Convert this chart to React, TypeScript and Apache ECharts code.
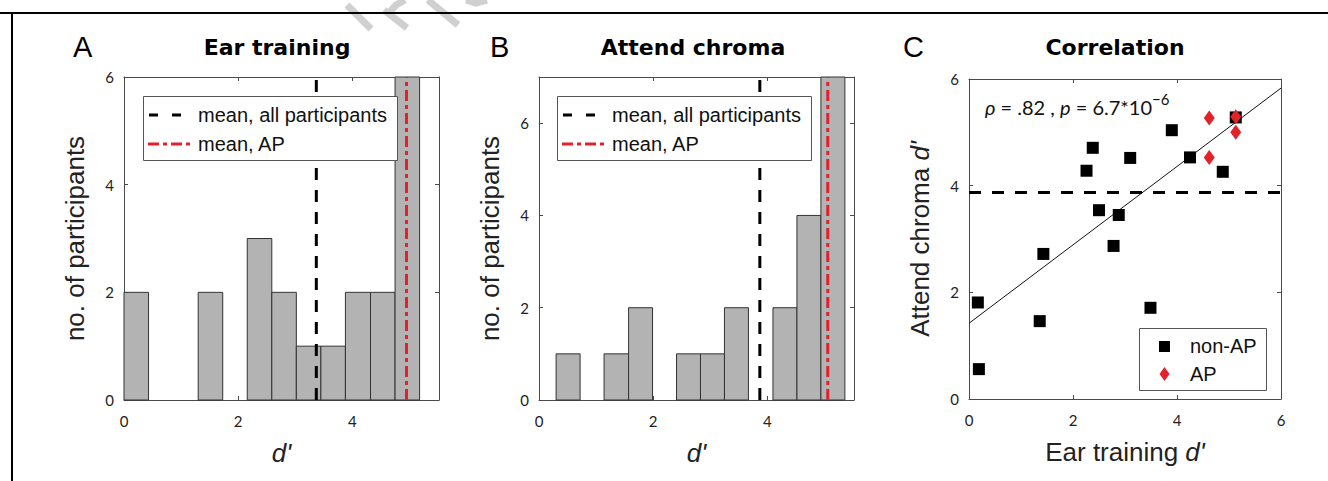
import React, { useEffect, useRef } from "react";
import * as echarts from "echarts";

// ---------- data ----------
const earEdges = [0, 0.43, 0.86, 1.3, 1.73, 2.16, 2.59, 3.02, 3.45, 3.88, 4.32, 4.75, 5.18];
const earCounts = [2, 0, 0, 2, 0, 3, 2, 1, 1, 2, 2, 6];
const chromaEdges = [0.3, 0.72, 1.14, 1.57, 1.99, 2.41, 2.83, 3.25, 3.67, 4.1, 4.52, 4.94, 5.36];
const chromaCounts = [1, 0, 1, 2, 0, 1, 1, 2, 0, 2, 4, 7];
const earMeanAll = 3.37;
const earMeanAP = 4.95;
const chromaMeanAll = 3.87;
const chromaMeanAP = 5.06;
const nonAP = [
  [0.17, 1.81], [0.19, 0.56], [1.36, 1.46], [1.43, 2.72], [2.26, 4.28],
  [2.38, 4.71], [2.5, 3.54], [2.78, 2.87], [2.88, 3.45], [3.1, 4.52],
  [3.49, 1.71], [3.9, 5.04], [4.25, 4.53], [4.88, 4.26], [5.13, 5.28],
];
const apPoints = [[4.62, 5.27], [4.62, 4.53], [5.13, 5.0], [5.13, 5.29]];
const fitLine = [[0, 1.42], [6, 5.83]];
const histXTicks = [0, 2, 4];
const histYTicksA = [0, 2, 4, 6];
const histYTicksB = [0, 2, 4, 6];
const corrTicks = [0, 2, 4, 6];
const titles = ["Ear training", "Attend chroma", "Correlation"];
const panelLetters = ["A", "B", "C"];
const legendHist = ["mean, all participants", "mean, AP"];
const legendCorr = ["non-AP", "AP"];

const SANS = "'Liberation Sans', Arial, sans-serif";
const TICKFONT = "Lato, 'Open Sans', sans-serif";
const AXIS_COLOR = "#4a4a4a";
const RED = "#e3212b";
const DASH_ALL = [12, 10];
const DASH_AP = [11, 4, 4, 4];

function binsData(edges: number[], counts: number[]) {
  return counts.map((c, i) => [edges[i], edges[i + 1], c]);
}

function xAxes(grid: number, min: number, max: number, ticks: number[], name: string) {
  const lineStyle = { color: AXIS_COLOR, width: 1 };
  return [
    {
      type: "value", gridIndex: grid, min, max, position: "bottom",
      axisLine: { show: true, onZero: false, lineStyle },
      axisTick: { show: true, inside: true, length: 4, customValues: ticks, lineStyle },
      axisLabel: { show: true, customValues: ticks, margin: 13, fontSize: 15, color: "#222", fontFamily: TICKFONT },
      splitLine: { show: false },
      name, nameLocation: "middle", nameGap: 40,
      nameTextStyle: {
        fontSize: 26, fontFamily: SANS, color: "#222",
        rich: { i: { fontSize: 26, fontFamily: SANS, fontStyle: "italic", color: "#222" } },
      },
    },
    {
      type: "value", gridIndex: grid, min, max, position: "top",
      axisLine: { show: true, onZero: false, lineStyle },
      axisTick: { show: true, inside: true, length: 4, customValues: ticks, lineStyle },
      axisLabel: { show: false },
      splitLine: { show: false },
    },
  ];
}

function yAxes(grid: number, min: number, max: number, ticks: number[], name: string, gap: number) {
  const lineStyle = { color: AXIS_COLOR, width: 1 };
  return [
    {
      type: "value", gridIndex: grid, min, max, position: "left",
      axisLine: { show: true, onZero: false, lineStyle },
      axisTick: { show: true, inside: true, length: 4, customValues: ticks, lineStyle },
      axisLabel: { show: true, customValues: ticks, margin: 10, fontSize: 15, color: "#222", fontFamily: TICKFONT },
      splitLine: { show: false },
      name, nameLocation: "middle", nameGap: gap, nameRotate: 90,
      nameTextStyle: {
        fontSize: 26, fontFamily: SANS, color: "#222",
        rich: { i: { fontSize: 26, fontFamily: SANS, fontStyle: "italic", color: "#222" } },
      },
    },
    {
      type: "value", gridIndex: grid, min, max, position: "right",
      axisLine: { show: true, onZero: false, lineStyle },
      axisTick: { show: true, inside: true, length: 4, customValues: ticks, lineStyle },
      axisLabel: { show: false },
      splitLine: { show: false },
    },
  ];
}

function histSeries(axisIdx: number, edges: number[], counts: number[]) {
  return {
    type: "custom",
    xAxisIndex: axisIdx, yAxisIndex: axisIdx,
    data: binsData(edges, counts),
    encode: { x: [0, 1], y: 2 },
    z: 1,
    renderItem: (_params: any, api: any) => {
      const c = api.value(2);
      if (!c) return { type: "group", children: [] };
      const p0 = api.coord([api.value(0), c]);
      const p1 = api.coord([api.value(1), 0]);
      return {
        type: "rect",
        shape: { x: p0[0], y: p0[1], width: p1[0] - p0[0], height: p1[1] - p0[1] },
        style: { fill: "#b3b3b3", stroke: "#333", lineWidth: 1 },
      };
    },
  };
}

function meanLine(axisIdx: number, name: string, x: number, yMax: number, color: string, dash: number[]) {
  return {
    type: "line", name,
    xAxisIndex: axisIdx, yAxisIndex: axisIdx,
    data: [[x, 0], [x, yMax]],
    symbol: "none", z: 3,
    lineStyle: { color, width: 3, type: dash },
    itemStyle: { color },
  };
}

// legend box drawn with graphic primitives (MATLAB-style)
function histLegendGraphic(left: number) {
  const top = 96;
  return [
    { type: "rect", z: 20, shape: { x: left + 0.5, y: top + 0.5, width: 254, height: 64 }, style: { fill: "#fff", stroke: "#555", lineWidth: 1 } },
    { type: "line", z: 21, shape: { x1: left + 6, y1: top + 19, x2: left + 50, y2: top + 19 }, style: { stroke: "#000", lineWidth: 3, lineDash: [9, 14] } },
    { type: "line", z: 21, shape: { x1: left + 5, y1: top + 48, x2: left + 50, y2: top + 48 }, style: { stroke: RED, lineWidth: 3, lineDash: DASH_AP } },
    { type: "text", z: 21, x: left + 55, y: top + 19, style: { text: legendHist[0], fontSize: 20, fontFamily: SANS, fill: "#111", textAlign: "left", textVerticalAlign: "middle" } },
    { type: "text", z: 21, x: left + 55, y: top + 48, style: { text: legendHist[1], fontSize: 20, fontFamily: SANS, fill: "#111", textAlign: "left", textVerticalAlign: "middle" } },
  ];
}

function corrLegendGraphic() {
  const left = 1139, top = 328;
  return [
    { type: "rect", z: 20, shape: { x: left + 0.5, y: top + 0.5, width: 127, height: 62 }, style: { fill: "#fff", stroke: "#555", lineWidth: 1 } },
    { type: "rect", z: 21, shape: { x: left + 20, y: top + 13, width: 11, height: 11 }, style: { fill: "#000" } },
    { type: "polygon", z: 21, shape: { points: [[left + 25.5, top + 39], [left + 30.5, top + 46], [left + 25.5, top + 53], [left + 20.5, top + 46]] }, style: { fill: RED } },
    { type: "text", z: 21, x: left + 51, y: top + 18, style: { text: legendCorr[0], fontSize: 20, fontFamily: SANS, fill: "#111", textAlign: "left", textVerticalAlign: "middle" } },
    { type: "text", z: 21, x: left + 51, y: top + 46, style: { text: legendCorr[1], fontSize: 20, fontFamily: SANS, fill: "#111", textAlign: "left", textVerticalAlign: "middle" } },
  ];
}

// faint watermark fragments near the top edge
const watermarkStrokes = [
  [[347, 5], [371, 29]],
  [[384, 10], [407, 28]],
  [[389, 13], [396, 5], [405, 0]],
  [[428, 0], [458, 25]],
  [[466, 0], [476, 3], [487, 0]],
];

export default function App() {
  const ref = useRef<HTMLDivElement>(null);
  useEffect(() => {
    document.body.style.margin = "0";
    if (!ref.current) return;
    const chart = echarts.init(ref.current, undefined, { renderer: "svg" });
    const option: any = {
      animation: false,
      backgroundColor: "#fff",
      grid: [
        { left: 124, top: 77, width: 315, height: 323 },
        { left: 539, top: 77, width: 315, height: 323 },
        { left: 969, top: 79, width: 312, height: 320 },
      ],
      xAxis: [
        ...xAxes(0, 0, 5.52, histXTicks, "{i|d'}"),
        ...xAxes(1, 0, 5.52, histXTicks, "{i|d'}"),
        ...xAxes(2, 0, 6, corrTicks, "Ear training {i|d'}"),
      ],
      yAxis: [
        ...yAxes(0, 0, 6, histYTicksA, "no. of participants", 36),
        ...yAxes(1, 0, 7, histYTicksB, "no. of participants", 36),
        ...yAxes(2, 0, 6, corrTicks, "Attend chroma {i|d'}", 36),
      ],
      series: [
        histSeries(0, earEdges, earCounts),
        meanLine(0, legendHist[0], earMeanAll, 6, "#000", DASH_ALL),
        meanLine(0, legendHist[1], earMeanAP, 6, RED, DASH_AP),
        histSeries(2, chromaEdges, chromaCounts),
        meanLine(2, legendHist[0], chromaMeanAll, 7, "#000", DASH_ALL),
        meanLine(2, legendHist[1], chromaMeanAP, 7, RED, DASH_AP),
        {
          type: "line", xAxisIndex: 4, yAxisIndex: 4,
          data: [[0, chromaMeanAll], [6, chromaMeanAll]],
          symbol: "none", z: 2,
          lineStyle: { color: "#000", width: 3, type: [12, 11] },
        },
        {
          type: "line", xAxisIndex: 4, yAxisIndex: 4,
          data: fitLine, symbol: "none", z: 2,
          lineStyle: { color: "#111", width: 1 },
        },
        {
          type: "scatter", name: legendCorr[0], xAxisIndex: 4, yAxisIndex: 4,
          data: nonAP, symbol: "rect", symbolSize: 12, z: 3,
          itemStyle: { color: "#000", opacity: 1 },
        },
        {
          type: "scatter", name: legendCorr[1], xAxisIndex: 4, yAxisIndex: 4,
          data: apPoints, symbol: "diamond", symbolSize: [11, 15], z: 4,
          itemStyle: { color: RED, opacity: 1 },
        },
      ],
      graphic: [
        ...watermarkStrokes.map((pts) => ({
          type: "polyline", z: 0,
          shape: { points: pts },
          style: { stroke: "#d0d0d0", lineWidth: 7, fill: "none", lineCap: "butt" },
        })),
        { type: "line", shape: { x1: 0, y1: 13, x2: 1328, y2: 13 }, style: { stroke: "#000", lineWidth: 2 }, z: 10 },
        { type: "line", shape: { x1: 12, y1: 13, x2: 12, y2: 481 }, style: { stroke: "#000", lineWidth: 2 }, z: 10 },
        ...[277, 693, 1115].map((cx, i) => ({
          type: "text", x: cx, y: 47,
          style: { text: titles[i], fontSize: 22, fontWeight: "bold", fontFamily: "'DejaVu Sans', sans-serif", fill: "#000", textAlign: "center", textVerticalAlign: "middle" },
        })),
        ...[73, 490, 903].map((lx, i) => ({
          type: "text", x: lx, y: 47,
          style: { text: panelLetters[i], fontSize: 29, fontFamily: SANS, fill: "#000", textAlign: "left", textVerticalAlign: "middle" },
        })),
        ...histLegendGraphic(143),
        ...histLegendGraphic(557),
        ...corrLegendGraphic(),
        {
          type: "text", x: 985, y: 107, z: 5,
          style: {
            text: "{i|ρ} = .82 , {i|p} = 6.7*10{s|−6}",
            fontSize: 20, fontFamily: TICKFONT, fill: "#111",
            textAlign: "left", textVerticalAlign: "middle",
            rich: {
              i: { fontSize: 20, fontStyle: "italic", fontFamily: TICKFONT, fill: "#111" },
              s: { fontSize: 15, fontFamily: TICKFONT, fill: "#111", verticalAlign: "top", padding: [0, 0, 16, 0] },
            },
          },
        },
      ],
    };
    chart.setOption(option);
    return () => chart.dispose();
  }, []);
  return <div ref={ref} style={{ width: 1328, height: 481 }} />;
}
